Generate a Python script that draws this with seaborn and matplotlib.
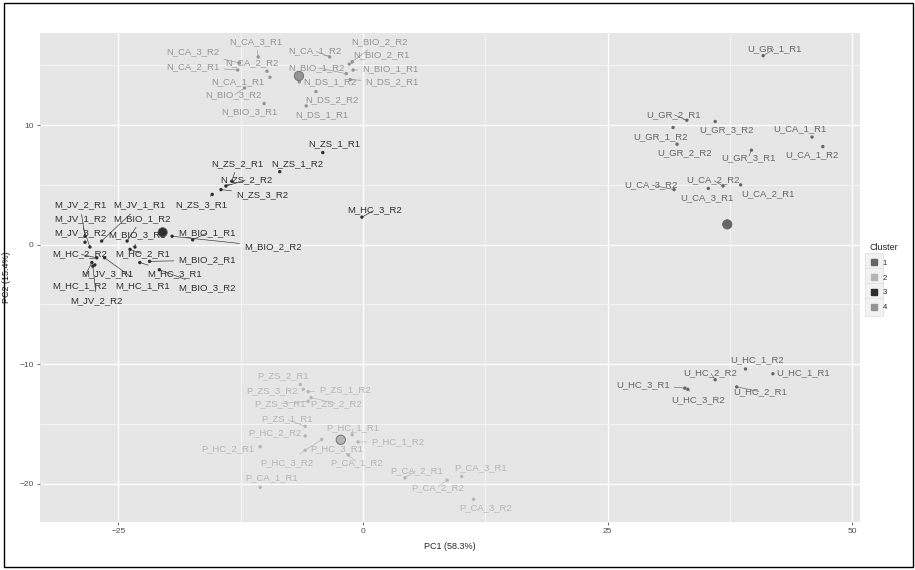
import numpy as np
import pandas as pd
import seaborn as sns
import matplotlib.pyplot as plt
from matplotlib.lines import Line2D
from matplotlib.patches import Rectangle

# sample names, PCA scores (PC1, PC2), repelled label positions and k-means cluster
names = [
    "N_CA_3_R1", "N_CA_3_R2", "N_CA_2_R1", "N_CA_2_R2", "N_CA_1_R1", "N_CA_1_R2",
    "N_BIO_2_R2", "N_BIO_2_R1", "N_BIO_1_R2", "N_BIO_1_R1", "N_DS_1_R2", "N_DS_2_R1",
    "N_BIO_3_R2", "N_DS_2_R2", "N_BIO_3_R1", "N_DS_1_R1",
    "N_ZS_1_R1", "N_ZS_2_R1", "N_ZS_1_R2", "N_ZS_2_R2", "N_ZS_3_R2", "N_ZS_3_R1", "M_HC_3_R2",
    "M_JV_2_R1", "M_JV_1_R1", "M_JV_1_R2", "M_JV_3_R2", "M_BIO_1_R2", "M_BIO_3_R1",
    "M_BIO_1_R1", "M_BIO_2_R2", "M_HC_2_R2", "M_HC_2_R1", "M_BIO_2_R1", "M_JV_3_R1",
    "M_HC_3_R1", "M_HC_1_R2", "M_HC_1_R1", "M_BIO_3_R2", "M_JV_2_R2",
    "P_ZS_2_R1", "P_ZS_3_R2", "P_ZS_1_R2", "P_ZS_3_R1", "P_ZS_2_R2", "P_ZS_1_R1",
    "P_HC_1_R1", "P_HC_2_R2", "P_HC_2_R1", "P_HC_3_R1", "P_HC_1_R2", "P_HC_3_R2",
    "P_CA_1_R2", "P_CA_1_R1", "P_CA_2_R1", "P_CA_3_R1", "P_CA_2_R2", "P_CA_3_R2",
    "U_GR_1_R1", "U_GR_2_R1", "U_GR_1_R2", "U_GR_3_R2", "U_CA_1_R1", "U_GR_2_R2",
    "U_GR_3_R1", "U_CA_1_R2", "U_CA_3_R2", "U_CA_2_R2", "U_CA_3_R1", "U_CA_2_R1",
    "U_HC_1_R2", "U_HC_2_R2", "U_HC_1_R1", "U_HC_3_R1", "U_HC_2_R1", "U_HC_3_R2",
]
pc1 = [
    -10.7, -12.6, -12.8, -9.8, -9.5, -3.4, -1.1, -1.4, -1.7, -1.0, -6.5, -1.3,
    -12.1, -4.8, -10.1, -5.8,
    -4.1, -13.4, -8.5, -14.0, -14.5, -15.4, -0.1,
    -28.4, -26.7, -27.9, -28.4, -24.1, -23.3, -17.4, -19.5, -27.2, -23.8, -21.8,
    -27.4, -22.8, -27.7, -26.4, -20.8, -27.6,
    -6.4, -6.1, -5.6, -5.6, -5.3, -5.9, -1.1, -5.9, -10.5, -5.9, -0.5, -4.2,
    -1.5, -10.5, 4.3, 10.1, 8.6, 11.3,
    40.9, 33.1, 31.7, 36.0, 45.9, 32.1, 39.7, 47.0, 31.8, 36.8, 35.3, 38.6,
    39.1, 36.0, 41.9, 32.9, 38.2, 33.2,
]
pc2 = [
    15.7, 15.2, 14.6, 14.5, 14.0, 15.7, 15.3, 15.1, 14.3, 14.6, 13.6, 13.8,
    13.1, 12.8, 11.8, 11.6,
    7.7, 5.3, 6.1, 4.9, 4.6, 4.2, 2.3,
    0.7, 0.3, -0.2, 0.2, 0.3, -0.2, 0.4, 0.7, -1.1, -0.4, -1.4,
    -1.7, -1.5, -1.5, -1.1, -2.1, -1.8,
    -11.7, -12.1, -12.3, -13.1, -12.8, -15.2, -15.9, -16.0, -16.9, -17.2, -16.5, -16.3,
    -17.6, -20.3, -19.5, -19.4, -19.7, -21.3,
    15.8, 10.4, 9.8, 10.3, 9.0, 8.4, 7.9, 8.2, 4.6, 4.9, 4.7, 5.0,
    -10.4, -11.3, -10.8, -12.0, -11.9, -12.1,
]
label_x = [
    -10.9, -17.4, -17.4, -11.3, -12.8, -4.9, 1.7, 1.9, -4.7, 2.8, -3.4, 3.0,
    -13.2, -3.2, -11.6, -4.2,
    -2.9, -12.8, -6.7, -11.9, -10.3, -16.5, 1.2,
    -28.9, -22.8, -28.9, -28.9, -22.6, -23.1, -15.9, -9.2, -28.9, -22.5, -15.9,
    -26.1, -19.2, -28.9, -22.5, -15.9, -27.2,
    -8.2, -9.3, -1.8, -8.5, -2.7, -7.8, -1.0, -9.0, -13.8, -2.7, 3.6, -7.8,
    -0.6, -9.3, 5.5, 12.0, 7.6, 12.5,
    42.1, 31.7, 30.4, 37.2, 44.7, 32.9, 39.4, 45.9, 29.4, 35.8, 35.2, 41.4,
    40.3, 35.5, 45.0, 28.6, 40.6, 34.3,
]
label_y = [
    17.0, 16.1, 14.9, 15.2, 13.6, 16.2, 17.0, 15.9, 14.8, 14.7, 13.6, 13.6,
    12.5, 12.1, 11.1, 10.9,
    8.4, 6.8, 6.8, 5.4, 4.2, 3.3, 2.9,
    3.3, 3.3, 2.2, 1.0, 2.2, 0.8, 1.0, -0.2, -0.8, -0.8, -1.3,
    -2.4, -2.4, -3.4, -3.4, -3.6, -4.7,
    -11.0, -12.2, -12.1, -13.3, -13.3, -14.6, -15.3, -15.7, -17.1, -17.1, -16.5, -18.2,
    -18.2, -19.5, -18.9, -18.7, -20.3, -22.0,
    16.4, 10.9, 9.0, 9.6, 9.7, 7.7, 7.3, 7.5, 5.0, 5.4, 3.9, 4.3,
    -9.6, -10.7, -10.7, -11.7, -12.3, -13.0,
]
cluster = [4] * 16 + [3] * 24 + [2] * 18 + [1] * 18

cluster_levels = [1, 2, 3, 4]
cluster_colors = {1: "#666666", 2: "#b5b5b5", 3: "#2e2e2e", 4: "#949494"}

df = pd.DataFrame({"name": names, "PC1": pc1, "PC2": pc2,
                   "lx": label_x, "ly": label_y, "cluster": cluster})
centers = df.groupby("cluster")[["PC1", "PC2"]].mean().reset_index()

sns.set_style("darkgrid", {"axes.facecolor": "#E6E6E6", "grid.color": "white"})
plt.rcParams["font.family"] = ["Liberation Sans", "DejaVu Sans"]

fig = plt.figure(figsize=(9.15, 5.7), dpi=100)
ax = fig.add_axes([40 / 915, 48 / 570, 820 / 915, 489 / 570])

sns.scatterplot(data=df, x="PC1", y="PC2", hue="cluster", palette=cluster_colors,
                s=6, linewidth=0, legend=False, ax=ax, zorder=3)
sns.scatterplot(data=centers, x="PC1", y="PC2", hue="cluster", palette=cluster_colors,
                s=45, linewidth=0.6, edgecolor="#666666", legend=False, ax=ax, zorder=4)

for _, r in df.iterrows():
    col = cluster_colors[r["cluster"]]
    ax.annotate(r["name"], xy=(r["PC1"], r["PC2"]), xytext=(r["lx"], r["ly"]),
                ha="center", va="center", fontsize=6.8, color=col, zorder=5,
                arrowprops=dict(arrowstyle="-", color=col, lw=0.45,
                                shrinkA=1, shrinkB=1))

ax.set_xlim(-33.0, 50.8)
ax.set_ylim(-23.2, 17.7)
ax.set_xticks([-25, 0, 25, 50])
ax.set_yticks([-20, -10, 0, 10])
ax.set_xticks([-12.5, 12.5, 37.5], minor=True)
ax.set_yticks([-15, -5, 5, 15], minor=True)
ax.grid(which="major", color="white", lw=0.9)
ax.grid(which="minor", color="white", lw=0.45)
ax.tick_params(which="major", length=2.5, width=0.5, color="#333333",
               labelsize=6, labelcolor="#4d4d4d", pad=2, bottom=True, left=True)
ax.tick_params(which="minor", length=0)
for s in ax.spines.values():
    s.set_visible(False)
ax.set_xlabel("PC1 (58.3%)", fontsize=6.5, labelpad=5)
ax.set_ylabel("PC2 (15.4%)", fontsize=6.5, labelpad=6)

handles = []
for c in cluster_levels:
    bg = Line2D([], [], marker="s", ms=13, mfc="#F2F2F2", mec="#DDDDDD", mew=0.5, ls="")
    pt = Line2D([], [], marker="s", ms=4.5, mfc=cluster_colors[c], mec=cluster_colors[c], ls="")
    handles.append((bg, pt))
leg = fig.legend(handles, [str(c) for c in cluster_levels], title="Cluster",
                 loc="center left", bbox_to_anchor=(863 / 915, 1 - 277 / 570),
                 frameon=False, fontsize=5.5, title_fontsize=6.5,
                 handlelength=1.2, handletextpad=0.5, labelspacing=1.0)
leg._legend_box.align = "left"

fig.patches.append(Rectangle((4 / 915, 3 / 570), 909 / 915, 564 / 570,
                             transform=fig.transFigure, fill=False,
                             lw=1, ec="black"))

fig.savefig("out.png", dpi=100)
